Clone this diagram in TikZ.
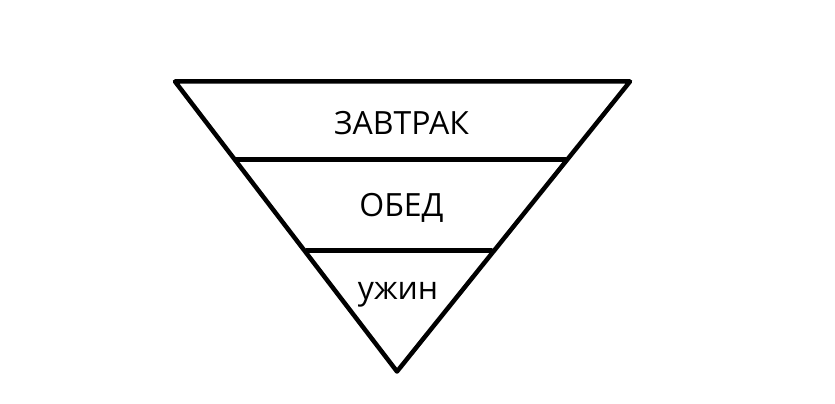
\documentclass[tikz,border=0pt]{standalone}
\usepackage{fontspec}
\setmainfont{Open Sans}
\begin{document}
\begin{tikzpicture}[x=1pt,y=1pt,
  edge/.style={line width=4.5pt,line join=round,line cap=round},
  lbl/.style={font=\fontsize{32}{36}\selectfont,inner sep=0pt}]
\useasboundingbox (0,0) rectangle (835,404);
\coordinate (tl) at (175,322.5);
\coordinate (tr) at (630,322.5);
\coordinate (bt) at (397,32.5);
\coordinate (al) at (236.5,244.7);
\coordinate (ar) at (565.5,244.7);
\coordinate (bl) at (306.5,153.3);
\coordinate (br) at (491.5,153.3);
\draw[edge] (tl) -- (tr) -- (bt) -- cycle;
\draw[edge] (al) -- (ar);
\draw[edge] (bl) -- (br);
\node[lbl,anchor=base] (z) at (401.5,269) {ЗАВТРАК};
\node[lbl,anchor=base] (o) at (401.5,187) {ОБЕД};
\node[lbl,anchor=base] (u) at (398,104) {ужин};
\end{tikzpicture}
\end{document}
